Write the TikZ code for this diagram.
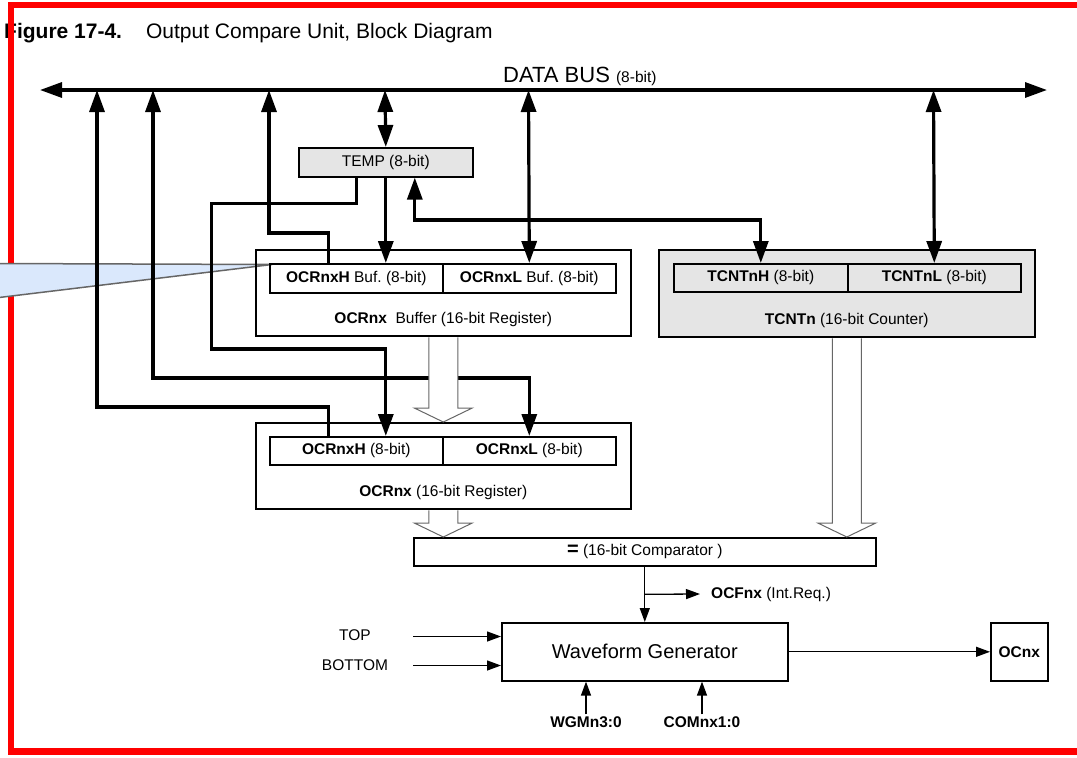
\documentclass[tikz,border=0pt]{standalone}
\usepackage{fontspec}
\setmainfont{Liberation Sans}
\usepackage{tikz}
\usetikzlibrary{arrows.meta}
\usetikzlibrary{calc}
\frenchspacing
\definecolor{frame}{rgb}{1.0, 0.0, 0.0}
\definecolor{boxgray}{gray}{0.9}
\definecolor{callout}{RGB}{218,232,252}

\tikzset{
  reg/.style={draw, line width=1.6pt, rectangle, inner sep=0pt, anchor=north west},
  lbl/.style={inner sep=0pt},
  buswire/.style={line width=3.2pt, >={Triangle[length=22pt,width=15pt]}},
  sigwire/.style={line width=1.3pt, >={Triangle[length=14pt,width=10pt]}}
}

% hollow arrow between two points
\newcommand{\fatarrow}[2]{%
  \path (#1) coordinate (fatA) (#2) coordinate (fatB);
  \filldraw[fill=white, draw=black!60, line width=1pt]
    ($(fatA)+(-14.5,0.8)$) -- ($(fatB)+(-14.5,-14)$) -- ($(fatB)+(-29,-14)$) -- (fatB)
    -- ($(fatB)+(29,-14)$) -- ($(fatB)+(14.5,-14)$) -- ($(fatA)+(14.5,0.8)$);
}

\begin{document}
\begin{tikzpicture}[x=1pt, y=-1pt, font=\fontsize{15.5}{18}\selectfont]
    \useasboundingbox (0,0) rectangle (1077,758);

    % Title
    \node[lbl, anchor=base west] (title) at (4,38)
      {\fontsize{21}{25}\selectfont\textbf{Figure 17-4.}\hspace{24pt}Output Compare Unit, Block Diagram};

    % Frame
    \draw[frame, line width=6.5pt] (11,5) rectangle (1095,751.5);

    % Callout
    \filldraw[fill=callout, draw=black!60, line width=1.5pt] (-5,263.5) -- (272,264.5) -- (-5,298) -- cycle;

    % Data bus
    \coordinate (busL) at (40,90);
    \coordinate (busR) at (1047,90);
    \node[lbl, anchor=base west] (buslbl) at (503,82)
      {\fontsize{22}{26}\selectfont DATA BUS {\fontsize{15.5}{18}\selectfont (8-bit)}};

    % Bus taps
    \coordinate (t1) at (97,90);
    \coordinate (t2) at (153,90);
    \coordinate (t3) at (269,90);
    \coordinate (t4) at (385,90);
    \coordinate (t5) at (528.5,90);
    \coordinate (t6) at (933.5,90);

    % TEMP
    \node[reg, fill=boxgray, minimum width=174pt, minimum height=29pt] (temp) at (298,147) {TEMP (8-bit)};

    % OCRnx buffer
    \node[reg, minimum width=375pt, minimum height=86pt] (bufouter) at (255,249) {};
    \node[reg, minimum width=173pt, minimum height=29pt] (bufH) at (269,263) {\textbf{OCRnxH} Buf. (8-bit)};
    \node[reg, minimum width=173pt, minimum height=29pt] (bufL) at (442,263) {\textbf{OCRnxL} Buf. (8-bit)};
    \node[lbl, anchor=base] (buflbl) at ($(bufouter.south)+(0,-13)$) {\textbf{OCRnx}\ \ Buffer (16-bit Register)};

    % TCNTn counter
    \node[reg, fill=boxgray, minimum width=376pt, minimum height=87pt] (cntouter) at (658,249) {};
    \node[reg, fill=boxgray, minimum width=174pt, minimum height=28pt] (cntH) at (673,263) {\textbf{TCNTnH} (8-bit)};
    \node[reg, fill=boxgray, minimum width=173pt, minimum height=28pt] (cntL) at (847,263) {\textbf{TCNTnL} (8-bit)};
    \node[lbl, anchor=base] (cntlbl) at ($(cntouter.south)+(0,-13)$) {\textbf{TCNTn} (16-bit Counter)};

    % OCRnx register
    \node[reg, minimum width=375pt, minimum height=86pt] (regouter) at (255,422) {};
    \node[reg, minimum width=173pt, minimum height=28pt] (regH) at (269,436) {\textbf{OCRnxH} (8-bit)};
    \node[reg, minimum width=173pt, minimum height=28pt] (regL) at (442,436) {\textbf{OCRnxL} (8-bit)};
    \node[lbl, anchor=base] (reglbl) at ($(regouter.south)+(0,-13)$) {\textbf{OCRnx} (16-bit Register)};

    % Comparator
    \node[reg, minimum width=462pt, minimum height=28pt] (comp) at (413,537)
      {{\fontsize{20}{20}\selectfont\textbf{=}} (16-bit Comparator )};

    % Waveform generator and output
    \node[reg, minimum width=286pt, minimum height=58pt] (wave) at (501,622)
      {\fontsize{20}{24}\selectfont Waveform Generator};
    \node[reg, minimum width=57pt, minimum height=58pt] (ocnx) at (990,622) {\textbf{OCnx}};

    % Inputs
    \node[lbl] (toplbl) at (355,635) {TOP};
    \node[lbl] (botlbl) at (355,665) {BOTTOM};
    \node[lbl] (wgm) at (586,722) {\textbf{WGMn3:0}};
    \node[lbl] (com) at (702,722) {\textbf{COMnx1:0}};
    \node[lbl, anchor=west] (ocf) at (711,594) {\textbf{OCFnx} (Int.Req.)};
    \coordinate (topsrc) at (413,636.5);
    \coordinate (botsrc) at (413,665.5);

    % Bus wires
    \draw[buswire, <->] (busL) -- (busR);
    \draw[buswire, <-] (t1) |- ($(regH.north)+(-27.5,-29)$) -- ($(regH.north)+(-27.5,0)$);
    \draw[buswire, <->] (t2) |- ($(regL.north)+(0,-58)$) -- (regL.north);
    \draw[buswire, <-] (t3) |- ($(bufH.north)+(-27.5,-30)$) -- ($(bufH.north)+(-27.5,0)$);
    \draw[buswire, <->] (t4) -- (temp.north);
    \draw[buswire, <->] (t5) -- (bufL.north);
    \draw[buswire, <->] (t6) -- (cntL.north);

    % TEMP wires
    \draw[buswire, ->] (temp.south) -- ($(bufH.north)+(29.5,0)$);
    \draw[buswire, <->] ($(temp.south)+(29,0)$) |- ($(cntH.north)+(0,-43)$) -- (cntH.north);
    \draw[buswire, ->] ($(temp.south)+(-29,0)$) -- ++(0,26) -| ($(regH.north)+(-144.5,-87)$)
      -- ($(regH.north)+(29.5,-87)$) -- ($(regH.north)+(29.5,0)$);

    % Hollow arrows
    \fatarrow{bufouter.south}{regouter.north}
    \fatarrow{regouter.south}{regouter.south |- comp.north}
    \fatarrow{cntouter.south}{cntouter.south |- comp.north}

    % Signals
    \coordinate (br) at ($(comp.south)!0.5!(wave.north)$);
    \draw[sigwire, ->] (comp.south) -- (wave.north);
    \draw[sigwire, ->] (br) -- ([xshift=-11pt]ocf.west);
    \draw[sigwire, ->] (topsrc) -- (topsrc -| wave.west);
    \draw[sigwire, ->] (botsrc) -- (botsrc -| wave.west);
    \draw[sigwire, ->] ([yshift=2pt]wgm.north) -- (wgm.north |- wave.south);
    \draw[sigwire, ->] ([yshift=2pt]com.north) -- (com.north |- wave.south);
    \draw[sigwire, ->] (wave.east) -- (ocnx.west);

\end{tikzpicture}
\end{document}
